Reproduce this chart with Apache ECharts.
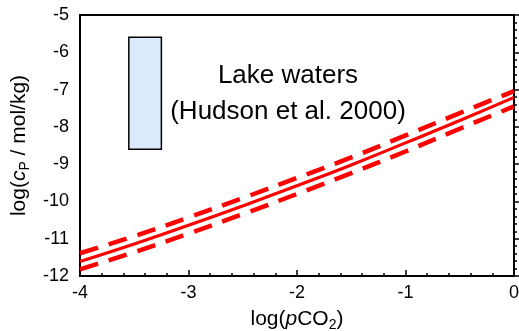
<!DOCTYPE html>
<html><head><meta charset="utf-8">
<script src="https://cdn.jsdelivr.net/npm/echarts@6/dist/echarts.min.js"></script>
<style>html,body{margin:0;padding:0;background:#fff}#c{width:519px;height:331px}</style>
</head><body><div id="c"></div>
<script>
var xs = [-4, -3.5, -3, -2.5, -2, -1.5, -1, -0.5, 0];
var central = [-11.61, -11.14, -10.64, -10.12, -9.58, -9.02, -8.43, -7.83, -7.21];
var upper = [-11.39, -10.93, -10.43, -9.91, -9.37, -8.82, -8.23, -7.63, -7.04];
var lower = [-11.82, -11.36, -10.86, -10.34, -9.80, -9.24, -8.66, -8.05, -7.45];
var boxX = [-3.55, -3.25];
var boxY = [-8.6, -5.6];
var xTicks = [-4, -3, -2, -1, 0];
var yTicks = [-12, -11, -10, -9, -8, -7, -6, -5];
var note1 = 'Lake waters';
var note2 = '(Hudson et al. 2000)';

function pairs(ys){ return xs.map(function(x,i){ return [x, ys[i]]; }); }
var font = 'Liberation Sans, Arial, Helvetica, sans-serif';
var nameRich = {
  a: {fontSize: 21, fontFamily: font, color: '#000'},
  i: {fontSize: 21, fontFamily: font, fontStyle: 'italic', color: '#000'},
  s: {fontSize: 14, fontFamily: font, color: '#000', verticalAlign: 'bottom', padding: [12,0,0,0]}
};
var chart = echarts.init(document.getElementById('c'));
chart.setOption({
  animation: false,
  grid: {left: 80, right: 5, top: 15, bottom: 55, show: true, borderColor: '#000', borderWidth: 2,
         backgroundColor: 'transparent', containLabel: false, outerBoundsMode: 'none'},
  xAxis: {
    type: 'value', min: xTicks[0], max: xTicks[xTicks.length-1], interval: 1,
    axisLine: {show: true, lineStyle: {color: '#000', width: 2}},
    axisTick: {show: true, inside: true, length: 6, lineStyle: {color: '#000', width: 1.5}},
    minorTick: {show: true, splitNumber: 5, length: 3, lineStyle: {color: '#000', width: 1.5}},
    splitLine: {show: false},
    axisLabel: {color: '#000', fontSize: 18, fontFamily: font, margin: 8},
    name: '{a|log(}{i|p}{a|CO}{s|2}{a|)}', nameLocation: 'middle', nameGap: 30,
    nameTextStyle: {rich: nameRich}
  },
  yAxis: {
    type: 'value', min: yTicks[0], max: yTicks[yTicks.length-1], interval: 1,
    axisLine: {show: true, lineStyle: {color: '#000', width: 2}},
    axisTick: {show: true, inside: true, length: 6, lineStyle: {color: '#000', width: 1.5}},
    minorTick: {show: true, splitNumber: 5, length: 3, lineStyle: {color: '#000', width: 1.5}},
    splitLine: {show: false},
    axisLabel: {color: '#000', fontSize: 18, fontFamily: font, margin: 11},
    name: '{a|log(}{i|c}{s|P}{a| / mol/kg)}', nameLocation: 'middle', nameGap: 45, nameRotate: 90,
    nameTextStyle: {rich: nameRich}
  },
  series: [
    {type: 'line', data: pairs(central), symbol: 'none', smooth: true, lineStyle: {color: '#ff0000', width: 3.2}, z: 3,
     markArea: {silent: true, itemStyle: {color: '#dbeafc', borderColor: '#000', borderWidth: 1.5},
       data: [[{coord: [boxX[0], boxY[0]]}, {coord: [boxX[1], boxY[1]]}]]}},
    {type: 'line', data: pairs(upper), symbol: 'none', smooth: true, lineStyle: {color: '#ff0000', width: 4.5, type: [19, 11], cap: 'butt'}, z: 3},
    {type: 'line', data: pairs(lower), symbol: 'none', smooth: true, lineStyle: {color: '#ff0000', width: 4.5, type: [19, 11], cap: 'butt'}, z: 3}
  ],
  graphic: [
    {type: 'text', style: {text: note1, x: 288, y: 76, textAlign: 'center', textVerticalAlign: 'middle', fontSize: 26, fontFamily: font, fill: '#000'}},
    {type: 'text', style: {text: note2, x: 288, y: 112, textAlign: 'center', textVerticalAlign: 'middle', fontSize: 26, fontFamily: font, fill: '#000'}}
  ]
});
</script></body></html>
